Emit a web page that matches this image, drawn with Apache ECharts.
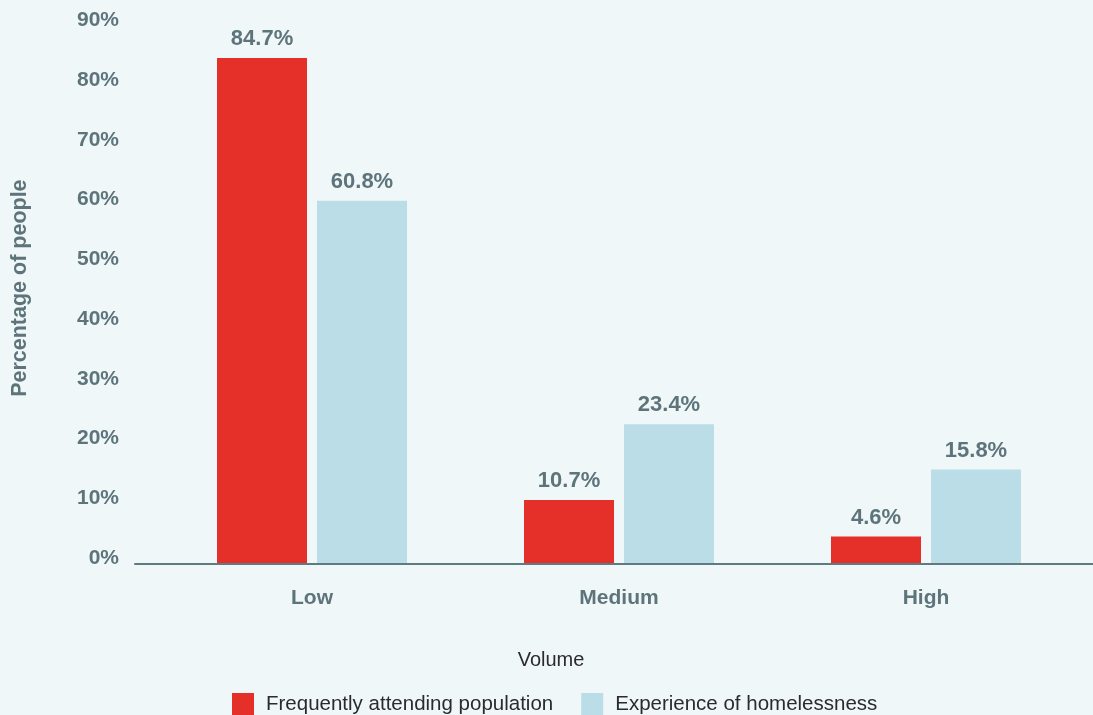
<!DOCTYPE html>
<html>
<head>
<meta charset="utf-8">
<script src="https://cdn.jsdelivr.net/npm/echarts@6/dist/echarts.min.js"></script>
<style>
html,body{margin:0;padding:0;background:#f0f7f9;}
#chart{width:1093px;height:715px;}
</style>
</head>
<body>
<div id="chart"></div>
<script>
const categories = ['Low', 'Medium', 'High'];
const frequentlyAttending = [84.7, 10.7, 4.6];
const homelessness = [60.8, 23.4, 15.8];
const seriesNames = ['Frequently attending population', 'Experience of homelessness'];

const labelColor = '#5d747b';
const font = 'Liberation Sans, Arial, Helvetica, sans-serif';

const chart = echarts.init(document.getElementById('chart'), null, {renderer: 'canvas'});
chart.setOption({
  backgroundColor: '#f0f7f9',
  animation: false,
  title: {
    text: 'Volume',
    left: 546, top: 645,
    textAlign: 'center',
    textStyle: {fontFamily: font, fontSize: 20, fontWeight: 'normal', color: '#2b2b2b'}
  },
  legend: {
    data: seriesNames,
    left: 227, top: 688,
    itemWidth: 22, itemHeight: 22, itemGap: 28,
    icon: 'rect',
    textStyle: {fontFamily: font, fontSize: 20.5, color: '#2b2b2b', padding: [0, 0, 0, 7]}
  },
  grid: [
    {left: 158.5, right: 13.5, top: 26.3, bottom: 151, outerBoundsMode: 'none', containLabel: false},
    {left: 135, right: 0, top: 26.3, bottom: 151, outerBoundsMode: 'none', containLabel: false}
  ],
  xAxis: [
    {
      type: 'category', data: categories, gridIndex: 0,
      axisLine: {show: false}, axisTick: {show: false},
      axisLabel: {margin: 24, fontFamily: font, fontSize: 21, fontWeight: 'bold', color: labelColor}
    },
    {
      type: 'value', gridIndex: 1, min: 0, max: 1,
      axisLine: {show: true, lineStyle: {color: '#5f7a80', width: 2}},
      axisTick: {show: false}, axisLabel: {show: false}, splitLine: {show: false}, z: 10
    }
  ],
  yAxis: [
    {
      type: 'value', gridIndex: 0, min: 0, max: 90, interval: 10,
      name: 'Percentage of people', nameLocation: 'middle', nameRotate: 90, nameGap: 127,
      nameTextStyle: {fontFamily: font, fontSize: 21.5, fontWeight: 'bold', color: labelColor, padding: [0, 0, 0, 14]},
      axisLine: {show: false}, axisTick: {show: false}, splitLine: {show: false},
      axisLabel: {
        margin: 39.5, fontFamily: font, fontSize: 21, fontWeight: 'bold', color: labelColor,
        formatter: '{value}%', verticalAlign: 'bottom', lineHeight: 12
      }
    },
    {type: 'value', gridIndex: 1, show: false, min: 0, max: 1}
  ],
  series: [
    {
      name: seriesNames[0], type: 'bar', data: frequentlyAttending,
      xAxisIndex: 0, yAxisIndex: 0,
      barWidth: 90, barGap: '11.1%',
      itemStyle: {color: '#e5302a'},
      label: {show: true, position: 'top', distance: 8, formatter: '{c}%',
        fontFamily: font, fontSize: 22, fontWeight: 'bold', color: labelColor}
    },
    {
      name: seriesNames[1], type: 'bar', data: homelessness,
      xAxisIndex: 0, yAxisIndex: 0,
      barWidth: 90, barGap: '11.1%',
      itemStyle: {color: '#badde8'},
      label: {show: true, position: 'top', distance: 8, formatter: '{c}%',
        fontFamily: font, fontSize: 22, fontWeight: 'bold', color: labelColor}
    }
  ]
});
</script>
</body>
</html>
